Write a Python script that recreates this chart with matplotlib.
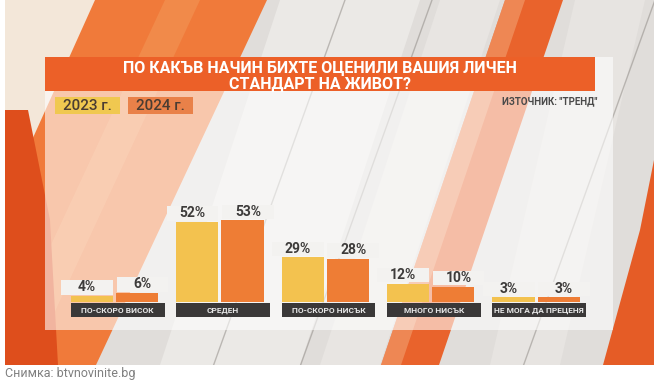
import numpy as np
import matplotlib
matplotlib.use("Agg")
from matplotlib import pyplot as plt
from matplotlib.patches import Rectangle, Polygon

categories = ["ПО-СКОРО ВИСОК", "СРЕДЕН", "ПО-СКОРО НИСЪК", "МНОГО НИСЪК", "НЕ МОГА ДА ПРЕЦЕНЯ"]
values_2023 = [4, 52, 29, 12, 3]
values_2024 = [6, 53, 28, 10, 3]
years = ["2023 г.", "2024 г."]
title_lines = ["ПО КАКЪВ НАЧИН БИХТЕ ОЦЕНИЛИ ВАШИЯ ЛИЧЕН", "СТАНДАРТ НА ЖИВОТ?"]
source = 'ИЗТОЧНИК: "ТРЕНД"'
caption = "Снимка: btvnovinite.bg"

# Colours
YELLOW = "#f3c24f"
ORANGE = "#ee7d35"
TITLE_BG = "#ec6028"
LABEL_BG = "#3a3838"
VALUE_BG = "#f3f2f0"
TEXT_DARK = "#3d3b3a"

plt.rcParams['font.family'] = ['Roboto', 'DejaVu Sans']

W, H = 659, 381
fig = plt.figure(figsize=(W / 100, H / 100), dpi=100)
fig.patch.set_facecolor("white")

# Background "studio" graphic in pixel coordinates
bg = fig.add_axes([0, 0, 1, 1])
bg.set_xlim(0, W)
bg.set_ylim(H, 0)
bg.axis("off")

photo = Rectangle((5, 0), 649, 365, fc="#e0ddda", ec="none", zorder=0)
bg.add_patch(photo)


def shape(pts, color, alpha=1.0, z=1):
    p = Polygon(pts, closed=True, fc=color, ec="none", alpha=alpha, zorder=z)
    bg.add_patch(p)
    p.set_clip_path(photo)


# light diagonal panels
shape([(280, 0), (420, 0), (300, 365), (160, 365)], "#ebe9e6")
shape([(440, 0), (500, 0), (380, 365), (320, 365)], "#e8e5e2")
shape([(575, 0), (645, 0), (560, 365), (490, 365)], "#e7e4e1")
# warm glow top left
shape([(5, 0), (100, 0), (5, 200)], "#f3e7d9")
# big orange band on the left
shape([(95, 0), (267, 0), (96, 365), (5, 365), (5, 200)], "#f07a3a")
shape([(165, 0), (200, 0), (30, 365), (-5, 365)], "#f39a5a", alpha=0.5)
shape([(5, 110), (28, 110), (50, 220), (58, 365), (5, 365)], "#de4e1c")
# red stripe in the middle right
shape([(505, 0), (563, 0), (439, 365), (381, 365)], "#e9632c")
shape([(505, 0), (525, 0), (401, 365), (381, 365)], "#f2a070", alpha=0.6)
# wedge on the right
shape([(654, 160), (654, 365), (603, 365), (640, 230)], "#e55c26")
# thin dark lines
for xt in [345, 432, 655]:
    ln, = bg.plot([xt, xt - 0.36 * 365], [0, 365], color="#8a8580", lw=1, alpha=0.5, zorder=1)
    ln.set_clip_path(photo)

# translucent panel and title bar
bg.add_patch(Rectangle((45, 57), 568, 273, fc="white", alpha=0.58, ec="none", zorder=2))
bg.add_patch(Rectangle((45, 57), 550, 34, fc=TITLE_BG, ec="none", zorder=3))
bg.text(320, 68, title_lines[0], ha="center", va="center", color="white",
        fontsize=11.5, fontweight="bold", zorder=4)
bg.text(320, 84, title_lines[1], ha="center", va="center", color="white",
        fontsize=11.5, fontweight="bold", zorder=4)

# legend boxes
for x0, label, col in [(55, years[0], "#f0c850"), (128, years[1], "#e98149")]:
    bg.add_patch(Rectangle((x0, 97), 65, 17, fc=col, ec="none", zorder=3))
    bg.text(x0 + 32.5, 105.5, label, ha="center", va="center", fontsize=11,
            color="#4a3c32", fontweight="medium", zorder=4)

bg.text(598, 101, source, ha="right", va="center", fontsize=7,
        fontweight="bold", color="#4a4a4a", zorder=4)
bg.text(5, 380, caption, ha="left", va="bottom", fontsize=9, color="#808080")

# Bar chart
x = np.arange(len(categories))
ax = fig.add_axes([61.8 / W, (H - 302) / H, 527 / W, 154 / H])
ax.set_xlim(-0.5, 4.5)
ax.set_ylim(0, 100)
ax.axis("off")
ax.patch.set_alpha(0)

w = 0.4
off = 0.215
ax.bar(x - off, values_2023, w, color=YELLOW, zorder=2)
ax.bar(x + off, values_2024, w, color=ORANGE, zorder=2)

for i, (v1, v2) in enumerate(zip(values_2023, values_2024)):
    ax.add_patch(Rectangle((i - 0.505, v1 + 0.8), 0.49, 9.4, fc=VALUE_BG,
                           ec="none", clip_on=False, zorder=3))
    ax.text(i - 0.26, v1 + 5.5, f"{v1}%", ha="center", va="center",
            fontsize=10, fontweight="bold", color=TEXT_DARK, zorder=4, clip_on=False)
    ax.add_patch(Rectangle((i + 0.02, v2 + 0.8), 0.49, 9.4, fc=VALUE_BG,
                           ec="none", clip_on=False, zorder=3))
    ax.text(i + 0.265, v2 + 5.5, f"{v2}%", ha="center", va="center",
            fontsize=10, fontweight="bold", color=TEXT_DARK, zorder=4, clip_on=False)
    # category label strip under the bars
    ax.add_patch(Rectangle((i - 0.415, -9.8), 0.89, 9.1, fc=LABEL_BG,
                           ec="none", clip_on=False, zorder=3))
    ax.text(i + 0.03, -5.25, categories[i], ha="center", va="center",
            fontsize=6.0, fontweight="bold", color="#e8e8e8", zorder=4, clip_on=False)

fig.savefig("out.png", dpi=100)
